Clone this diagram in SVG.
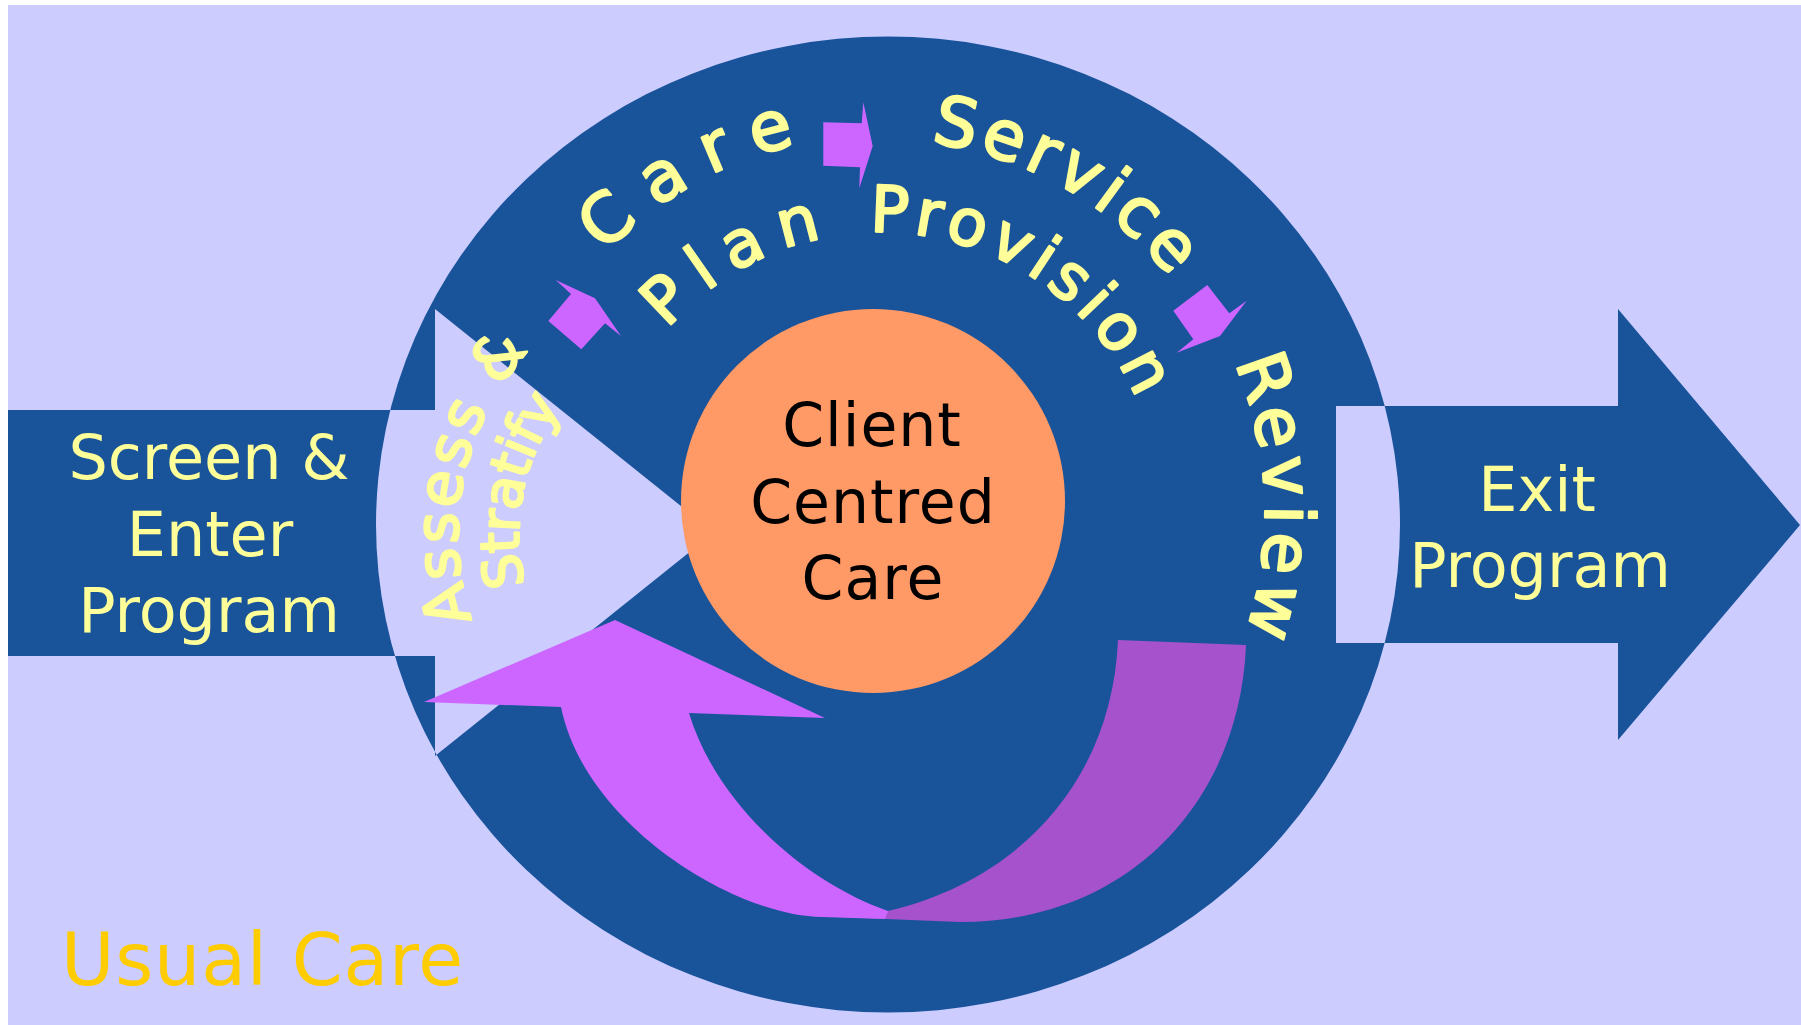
<svg xmlns="http://www.w3.org/2000/svg" width="1801" height="1025" viewBox="0 0 1801 1025">
<style>
  .lbl { fill:#FFFF99; font-family:"DejaVu Sans","Verdana",sans-serif; }
  .arc { stroke:#FFFF99; stroke-width:2.4; stroke-linejoin:round; }
  .mid { text-anchor:middle; }
  .dark { fill:#19549A; }
  .pur { fill:#CC66FF; }
</style>
<defs>
  <path id="pCare" d="M 880 891 A 378 378 0 0 1 880 135 A 378 378 0 0 1 880 891"/>
  <path id="pService" d="M 880 887 A 374 374 0 0 1 880 139 A 374 374 0 0 1 880 887"/>
  <path id="pReview" d="M 880 898 A 385 385 0 0 1 880 128 A 385 385 0 0 1 880 898"/>
  <path id="pInner" d="M 880 794 A 281 281 0 0 1 880 232 A 281 281 0 0 1 880 794"/>
  <path id="pAssess" d="M 730 806 A 272 272 0 0 1 730 262 A 272 272 0 0 1 730 806"/>
  <path id="pStratify" d="M 730 745 A 211 211 0 0 1 730 323 A 211 211 0 0 1 730 745"/>
</defs>
<rect width="1801" height="1025" fill="#FFFFFF"/>
<rect x="8" y="5" width="1793" height="1020" fill="#CCCCFF"/>
<g id="ring-and-arrows">
  <path class="dark" fill-rule="evenodd" d="M 376 524.5 A 512 488 0 1 1 1400 524.5 A 512 488 0 1 1 376 524.5 Z M 8 410 L 435 410 L 435 309 L 714 532.5 L 435 756 L 435 656 L 8 656 Z M 1336 406 L 1618 406 L 1618 309 L 1800 525 L 1618 740 L 1618 643 L 1336 643 Z"/>
</g>
<g id="screen-enter">
  <text class="lbl mid" font-size="62" x="209" y="479">Screen &amp;</text>
  <text class="lbl mid" font-size="62" x="210" y="556">Enter</text>
  <text class="lbl mid" font-size="62" x="209" y="632">Program</text>
</g>
<g id="exit-program">
  <text class="lbl mid" font-size="62" x="1537" y="511">Exit</text>
  <text class="lbl mid" font-size="62" x="1540" y="587">Program</text>
</g>
<g id="client-centred-care">
  <circle cx="873" cy="501" r="192" fill="#FF9966"/>
  <g font-family="DejaVu Sans, Verdana, sans-serif" font-size="60" fill="#000" text-anchor="middle" letter-spacing="1">
    <text x="872" y="446">Client</text>
    <text x="873" y="523">Centred</text>
    <text x="873" y="599">Care</text>
  </g>
</g>
<g id="connectors">
  <polygon class="pur" points="555.7,280 595,298.3 621,336 605,323.3 581.3,349.3 548.3,321 571,294"/>
  <polygon class="pur" points="823.3,122.3 861.7,123.3 863.3,102.3 872.7,146 859.3,188.3 860,167.3 823.3,165.7"/>
  <polygon class="pur" points="1173.3,310.7 1207.3,285 1229.3,313.3 1246.7,300.7 1220,336 1176.7,352.7 1193.3,339.3"/>
  <path fill="#A652CC" d="M 1118 640 L 1246 645 C 1240 800 1130 922 960 922 L 813 916 L 888 911 C 1020 880 1112 780 1118 640 Z"/>
  <path class="pur" d="M 888 911 C 800 880 715 800 689 713 L 825 718 L 615 620 L 424 702 L 561 707 C 585 825 735 916 822 917 L 885 919 Z"/>
</g>
<g id="assess-stratify">
  <text class="lbl arc" font-size="60" letter-spacing="2.8"><textPath href="#pAssess" startOffset="339.4">Assess &amp;</textPath></text>
  <text class="lbl arc" font-size="54" letter-spacing="-1.2"><textPath href="#pStratify" startOffset="279.7">Stratify</textPath></text>
</g>
<g id="care-plan">
  <text class="lbl arc" font-size="68" letter-spacing="21.8"><textPath href="#pCare" startOffset="878.6">Care</textPath></text>
  <text class="lbl arc" font-size="64" letter-spacing="15.5"><textPath href="#pInner" startOffset="641.3">Plan</textPath></text>
</g>
<g id="service-provision">
  <text class="lbl arc" font-size="68" letter-spacing="5"><textPath href="#pService" startOffset="1225.2">Service</textPath></text>
  <text class="lbl arc" font-size="64" letter-spacing="5.7"><textPath href="#pInner" startOffset="872.3">Provision</textPath></text>
</g>
<g id="review">
  <text class="lbl arc" font-size="68" letter-spacing="6.7"><textPath href="#pReview" startOffset="1659">Review</textPath></text>
</g>
<g id="usual-care">
  <text font-family="DejaVu Sans, Verdana, sans-serif" font-size="73" fill="#FFCC00" x="61" y="985" letter-spacing="0.8">Usual Care</text>
</g>
</svg>
